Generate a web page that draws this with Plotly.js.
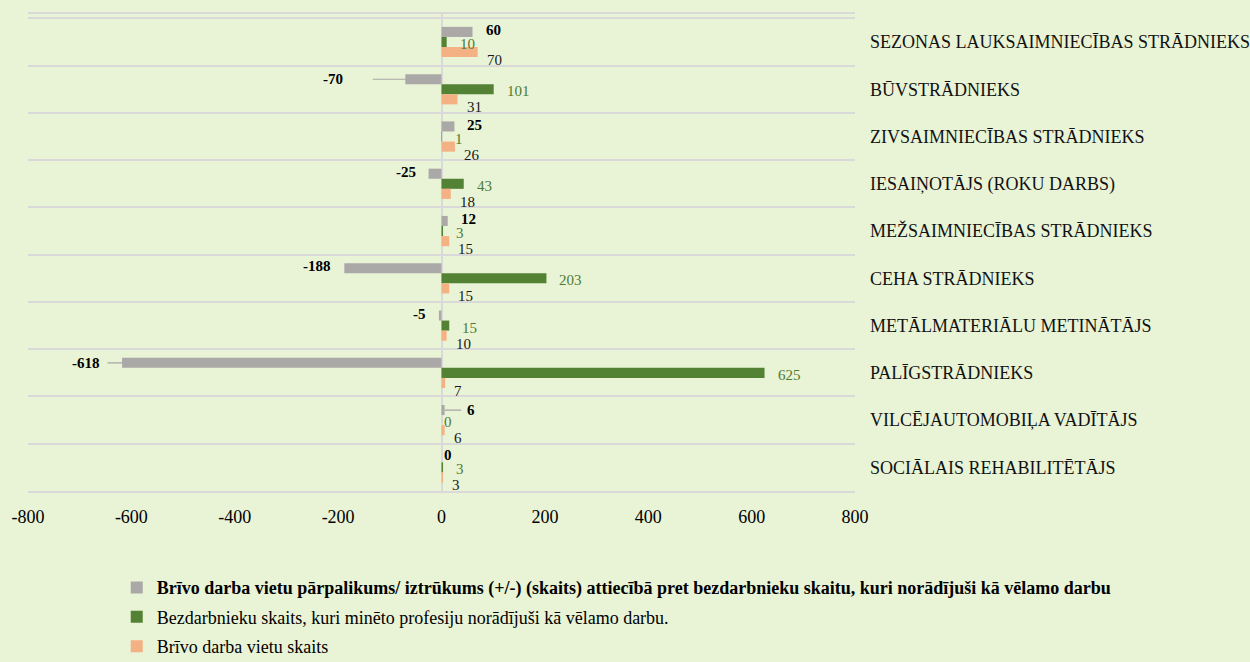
<!DOCTYPE html>
<html>
<head>
<meta charset="utf-8">
<script src="https://cdn.plot.ly/plotly-3.0.1.min.js"></script>
<style>html,body{margin:0;padding:0;background:#E9F3D6;}</style>
</head>
<body>
<div id="chart" style="width:1250px;height:662px;"></div>
<script>
// ---- data ----
const categories = [
  "SEZONAS LAUKSAIMNIECĪBAS STRĀDNIEKS",
  "BŪVSTRĀDNIEKS",
  "ZIVSAIMNIECĪBAS STRĀDNIEKS",
  "IESAIŅOTĀJS (ROKU DARBS)",
  "MEŽSAIMNIECĪBAS STRĀDNIEKS",
  "CEHA STRĀDNIEKS",
  "METĀLMATERIĀLU METINĀTĀJS",
  "PALĪGSTRĀDNIEKS",
  "VILCĒJAUTOMOBIĻA VADĪTĀJS",
  "SOCIĀLAIS REHABILITĒTĀJS"
];
const balance = [60, -70, 25, -25, 12, -188, -5, -618, 6, 0];
const unemployed = [10, 101, 1, 43, 3, 203, 15, 625, 0, 3];
const vacancies = [70, 31, 26, 18, 15, 15, 10, 7, 6, 3];
const seriesNames = [
  "<b>Brīvo darba vietu pārpalikums/ iztrūkums (+/-) (skaits) attiecībā pret bezdarbnieku skaitu, kuri norādījuši kā vēlamo darbu</b>",
  "Bezdarbnieku skaits, kuri minēto profesiju norādījuši kā vēlamo darbu.",
  "Brīvo darba vietu skaits"
];
const xTicks = [-800, -600, -400, -200, 0, 200, 400, 600, 800];

// ---- style ----
const FONT = '"Liberation Serif", "Times New Roman", serif';
const BG = "#E9F3D6";
const colors = ["#ABA8A8", "#548235", "#F4B183"];
const labelColors = ["#000000", "#4F7A32", "#1a1a1a"];
const labelBold = [true, false, false];
const labelYShift = [12, -2, -18];
const labelXShift = [11, 11, 7];
// categories whose balance label uses a leader line (pixel offsets)
const leaderStyle = {1: {ax: -72, ss: 28}, 7: {ax: -36, ss: 6}, 8: {ax: 26, ss: 4}};

const allSeries = [balance, unemployed, vacancies];

const traces = allSeries.map((vals, k) => ({
  type: "bar",
  orientation: "h",
  y: categories,
  x: vals,
  name: seriesNames[k],
  legendgroup: "g" + k,
  marker: {color: colors[k], line: {width: 0}},
  hoverinfo: "x+y"
}));

const annotations = [];
allSeries.forEach((vals, k) => {
  vals.forEach((v, i) => {
    const txt = labelBold[k] ? "<b>" + v + "</b>" : String(v);
    const a = {
      x: v, y: categories[i], xref: "x", yref: "y",
      text: txt, showarrow: false,
      font: {family: FONT, size: 15, color: labelColors[k]},
      yshift: labelYShift[k]
    };
    if (k === 0 && leaderStyle[i]) {
      const L = leaderStyle[i];
      a.showarrow = true; a.arrowhead = 0; a.arrowwidth = 1.2; a.arrowcolor = "#A6A6A6";
      a.ax = L.ax; a.ay = 0; a.startstandoff = L.ss; a.standoff = 0;
      a.yshift = 10;
    } else if (v < 0) {
      a.xanchor = "right"; a.xshift = -labelXShift[k];
    } else {
      a.xanchor = "left"; a.xshift = v === 0 ? 0 : labelXShift[k];
    }
    annotations.push(a);
  });
});

const layout = {
  width: 1250, height: 662,
  paper_bgcolor: BG, plot_bgcolor: BG,
  font: {family: FONT, size: 16, color: "#000"},
  margin: {l: 28, r: 395, t: 14, b: 171, autoexpand: false},
  barmode: "group",
  bargap: 0.36,
  bargroupgap: 0,
  showlegend: true,
  xaxis: {
    range: [-800, 800], tickvals: xTicks, ticktext: xTicks.map(String),
    showgrid: false, zeroline: true, zerolinecolor: "#D9D9D9", zerolinewidth: 2,
    showline: true, mirror: true, linecolor: "#D9D9D9", linewidth: 2,
    ticks: "", ticklabelstandoff: 8,
    tickfont: {family: FONT, size: 18, color: "#000"}, fixedrange: true
  },
  yaxis: {
    type: "category", autorange: "reversed", side: "right",
    tickson: "boundaries", showgrid: true, gridcolor: "#D9D9D9", gridwidth: 2,
    ticks: "", ticklabelstandoff: 14, showline: false, zeroline: false,
    tickfont: {family: FONT, size: 18, color: "#111"}, fixedrange: true
  },
  legend: {
    orientation: "v", x: 0.1073, xanchor: "left", y: -0.164, yanchor: "top",
    traceorder: "grouped", tracegroupgap: 3,
    font: {family: FONT, size: 18, color: "#000"},
    bgcolor: "rgba(0,0,0,0)"
  },
  annotations: annotations
};

Plotly.newPlot("chart", traces, layout, {displayModeBar: false, staticPlot: true});
</script>
</body>
</html>
